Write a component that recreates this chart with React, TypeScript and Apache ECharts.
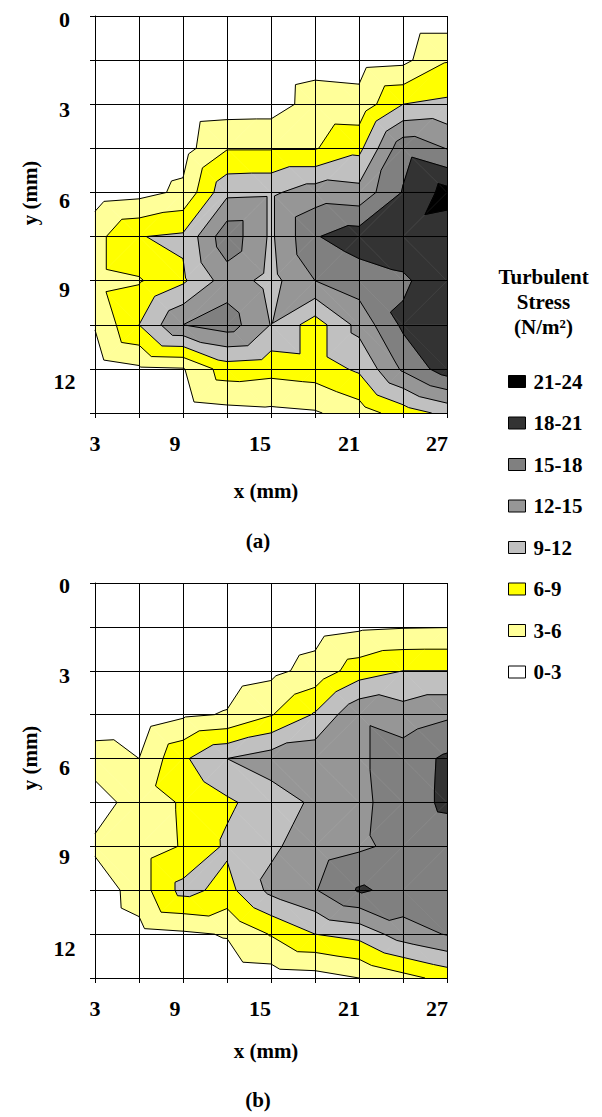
import React, { useEffect, useRef } from "react";
import * as echarts from "echarts";

// Grid node positions (mm)
const X_VALUES = [3, 6, 9, 12, 15, 18, 21, 24, 27];
const Y_VALUES = [0, 1.5, 3, 4.5, 6, 7.5, 9, 10.5, 12, 13.5];
const X_TICK_LABELS = [3, 9, 15, 21, 27];
const Y_TICK_LABELS = [0, 3, 6, 9, 12];

// Stress bands
const BAND_NAMES = ["0-3", "3-6", "6-9", "9-12", "12-15", "15-18", "18-21", "21-24"];
const BAND_LEVELS = [3, 6, 9, 12, 15, 18, 21];
const BAND_COLORS = ["#FFFFFF", "#FFFF99", "#FFFF00", "#C0C0C0", "#969696", "#808080", "#333333", "#000000"];

// Panel (a): turbulent stress (N/m^2), rows y = 0 ... 13.5 mm, columns x = 3 ... 27 mm
const STRESS_A: number[][] = [
  [0.3, 0.4, 0.5, 0.6, 0.7, 0.8, 1.0, 1.2, 1.2],
  [0.5, 0.6, 0.8, 1.0, 1.5, 2.0, 1.8, 2.2, 5.8],
  [0.8, 1.0, 1.2, 1.5, 1.6, 4.2, 4.0, 9.0, 9.6],
  [1.0, 1.3, 1.8, 5.8, 5.8, 5.8, 8.2, 17.0, 14.9],
  [1.5, 2.0, 3.6, 11.3, 11.5, 13.5, 13.0, 18.2, 22.0],
  [5.0, 8.9, 9.5, 17.0, 11.5, 17.8, 19.5, 20.0, 19.5],
  [5.0, 5.7, 8.5, 13.5, 11.0, 15.0, 16.5, 17.5, 20.0],
  [3.2, 9.0, 15.0, 16.5, 11.9, 7.5, 13.0, 18.6, 20.0],
  [1.5, 2.5, 2.8, 7.5, 7.0, 7.5, 9.5, 15.5, 19.6],
  [1.0, 1.2, 1.5, 2.0, 2.3, 2.7, 4.5, 7.5, 9.8],
];

// Panel (b)
const STRESS_B: number[][] = [
  [0.2, 0.3, 0.3, 0.4, 0.5, 0.6, 0.8, 1.0, 1.2],
  [0.4, 0.5, 0.6, 0.8, 1.2, 1.8, 2.5, 2.8, 2.9],
  [0.6, 0.8, 1.0, 1.5, 2.2, 4.0, 7.5, 9.0, 9.0],
  [0.8, 1.0, 2.5, 3.2, 5.8, 9.3, 14.5, 13.3, 14.5],
  [4.5, 3.0, 8.5, 12.0, 13.5, 14.0, 14.5, 16.5, 18.5],
  [1.5, 4.5, 6.3, 8.5, 10.5, 12.5, 14.3, 16.5, 18.6],
  [3.6, 4.5, 6.2, 9.5, 11.5, 13.5, 14.5, 15.8, 16.2],
  [1.0, 4.5, 10.0, 8.0, 12.8, 14.8, 18.3, 17.3, 16.5],
  [0.8, 2.0, 2.5, 3.2, 6.2, 9.0, 10.0, 13.5, 15.2],
  [0.5, 0.8, 1.0, 1.2, 1.5, 1.8, 3.0, 5.0, 7.0],
];

const FONT = "'Liberation Serif', 'Times New Roman', Times, serif";

type Pt = [number, number, number];

// each grid cell is split into two triangles along the diagonal that joins the higher pair of corners
function buildTriangles(grid: number[][]): Pt[][] {
  const tris: Pt[][] = [];
  for (let j = 0; j < Y_VALUES.length - 1; j++) {
    for (let i = 0; i < X_VALUES.length - 1; i++) {
      const tl: Pt = [X_VALUES[i], Y_VALUES[j], grid[j][i]];
      const tr: Pt = [X_VALUES[i + 1], Y_VALUES[j], grid[j][i + 1]];
      const br: Pt = [X_VALUES[i + 1], Y_VALUES[j + 1], grid[j + 1][i + 1]];
      const bl: Pt = [X_VALUES[i], Y_VALUES[j + 1], grid[j + 1][i]];
      if (tl[2] + br[2] >= tr[2] + bl[2]) {
        tris.push([tl, tr, br], [tl, br, bl]);
      } else {
        tris.push([tl, tr, bl], [tr, br, bl]);
      }
    }
  }
  return tris;
}

function clipPoly(poly: Pt[], level: number, keepAbove: boolean): Pt[] {
  const out: Pt[] = [];
  for (let k = 0; k < poly.length; k++) {
    const a = poly[k];
    const b = poly[(k + 1) % poly.length];
    const ina = keepAbove ? a[2] >= level : a[2] <= level;
    const inb = keepAbove ? b[2] >= level : b[2] <= level;
    if (ina) out.push(a);
    if (ina !== inb) {
      const t = (level - a[2]) / (b[2] - a[2]);
      out.push([a[0] + t * (b[0] - a[0]), a[1] + t * (b[1] - a[1]), level]);
    }
  }
  return out;
}

function bandPolygons(tris: Pt[][], band: number): Pt[][] {
  const res: Pt[][] = [];
  for (const tri of tris) {
    let poly: Pt[] = tri;
    if (band > 0) poly = clipPoly(poly, BAND_LEVELS[band - 1], true);
    if (poly.length >= 3 && band < BAND_NAMES.length - 1) poly = clipPoly(poly, BAND_LEVELS[band], false);
    if (poly.length >= 3) res.push(poly);
  }
  return res;
}

function contourSegments(tris: Pt[][]): number[][] {
  const segs: number[][] = [];
  for (const tri of tris) {
    for (const L of BAND_LEVELS) {
      const pts: number[][] = [];
      for (let k = 0; k < 3; k++) {
        const a = tri[k];
        const b = tri[(k + 1) % 3];
        if ((a[2] >= L) !== (b[2] >= L)) {
          const t = (L - a[2]) / (b[2] - a[2]);
          pts.push([a[0] + t * (b[0] - a[0]), a[1] + t * (b[1] - a[1])]);
        }
      }
      if (pts.length === 2) segs.push([pts[0][0], pts[0][1], pts[1][0], pts[1][1]]);
    }
  }
  return segs;
}

const baseLabel = { fontSize: 22, fontWeight: "bold", fontFamily: FONT, color: "#000", lineHeight: 22 };

// label offsets in px (reference layout)
const X_LABEL_SHIFT = [0, -8, -11, -10, -10];
const Y_LABEL_SHIFT = [
  [3.5, 5.5, 8, 9, 13],
  [2, 4.5, 8.5, 10.5, 14.5],
];

function near(v: number, t: number) {
  return Math.abs(v - t) < 1e-6;
}

function xAxisFor(g: number) {
  const rich: any = {};
  X_TICK_LABELS.forEach((_, k) => {
    const s = X_LABEL_SHIFT[k];
    rich["x" + k] = { ...baseLabel, padding: s < 0 ? [0, -2 * s, 0, 0] : [0, 0, 0, 2 * s] };
  });
  return {
    type: "value",
    gridIndex: g,
    min: 3,
    max: 27,
    interval: 3,
    z: 3,
    axisLine: { show: true, onZero: false, lineStyle: { color: "#000", width: 1 } },
    axisTick: { show: true, length: 5, lineStyle: { color: "#000", width: 1 } },
    splitLine: { show: true, lineStyle: { color: "#000", width: 1 } },
    axisLabel: {
      margin: 19,
      showMinLabel: true,
      showMaxLabel: true,
      formatter: (v: number) => {
        const k = X_TICK_LABELS.findIndex((t) => near(v, t));
        return k >= 0 ? `{x${k}|${X_TICK_LABELS[k]}}` : "";
      },
      rich,
      ...baseLabel,
    },
  };
}

function yAxisFor(g: number) {
  const rich: any = {};
  Y_TICK_LABELS.forEach((_, k) => {
    const s = Y_LABEL_SHIFT[g][k];
    rich["y" + k] = { ...baseLabel, padding: [2 * s, 0, 0, 0] };
  });
  return {
    type: "value",
    gridIndex: g,
    min: 0,
    max: 13.5,
    interval: 1.5,
    inverse: true,
    z: 3,
    axisLine: { show: true, onZero: false, lineStyle: { color: "#000", width: 1 } },
    axisTick: { show: true, length: 5, lineStyle: { color: "#000", width: 1 } },
    splitLine: { show: true, lineStyle: { color: "#000", width: 1 } },
    axisLabel: {
      margin: 30.5,
      align: "center",
      showMinLabel: true,
      showMaxLabel: true,
      formatter: (v: number) => {
        const k = Y_TICK_LABELS.findIndex((t) => near(v, t));
        return k >= 0 ? `{y${k}|${Y_TICK_LABELS[k]}}` : "";
      },
      rich,
      ...baseLabel,
    },
  };
}

function panelSeries(grid: number[][], g: number) {
  const tris = buildTriangles(grid);
  const series: any[] = [];
  BAND_NAMES.forEach((name, b) => {
    const polys = bandPolygons(tris, b);
    const color = BAND_COLORS[b];
    series.push({
      type: "custom",
      name,
      xAxisIndex: g,
      yAxisIndex: g,
      coordinateSystem: "cartesian2d",
      silent: true,
      z: 1,
      itemStyle: { color, borderColor: "#000", borderWidth: 1 },
      data: [[X_VALUES[0], Y_VALUES[0]]],
      renderItem: (_params: any, api: any) => ({
        type: "group",
        children: polys.map((poly) => ({
          type: "polygon",
          shape: { points: poly.map((p) => api.coord([p[0], p[1]])) },
          style: { fill: color, stroke: color, lineWidth: 0.7 },
        })),
      }),
    });
  });
  const segs = contourSegments(tris);
  series.push({
    type: "custom",
    xAxisIndex: g,
    yAxisIndex: g,
    coordinateSystem: "cartesian2d",
    silent: true,
    z: 2,
    data: [[X_VALUES[0], Y_VALUES[0]]],
    renderItem: (_params: any, api: any) => ({
      type: "group",
      children: segs.map((s) => {
        const p1 = api.coord([s[0], s[1]]);
        const p2 = api.coord([s[2], s[3]]);
        return {
          type: "line",
          shape: { x1: p1[0], y1: p1[1], x2: p2[0], y2: p2[1] },
          style: { stroke: "#000", lineWidth: 1 },
        };
      }),
    }),
  });
  return series;
}

function textEl(text: string, x: number, y: number, extra: any = {}) {
  return {
    type: "text",
    x,
    y,
    silent: true,
    ...extra,
    style: {
      text,
      fill: "#000",
      fontSize: 21,
      fontWeight: "bold",
      fontFamily: FONT,
      align: "center",
      verticalAlign: "middle",
      ...(extra.style || {}),
    },
  };
}

export default function App() {
  const ref = useRef<HTMLDivElement>(null);

  useEffect(() => {
    if (!ref.current) return;
    const chart = echarts.init(ref.current, undefined, { renderer: "svg" });
    const legendData = [...BAND_NAMES]
      .map((name, b) => ({
        name,
        itemStyle: { color: BAND_COLORS[b], borderColor: "#000", borderWidth: 1 },
      }))
      .reverse();

    chart.setOption({
      animation: false,
      backgroundColor: "#fff",
      grid: [
        { left: 95, top: 16, width: 352, height: 397 },
        { left: 95, top: 583, width: 352, height: 395 },
      ],
      xAxis: [xAxisFor(0), xAxisFor(1)],
      yAxis: [yAxisFor(0), yAxisFor(1)],
      legend: {
        orient: "vertical",
        left: 503,
        top: 366,
        icon: "rect",
        itemWidth: 17,
        itemHeight: 12,
        itemGap: 20.5,
        selectedMode: false,
        data: legendData,
        textStyle: {
          fontSize: 21,
          lineHeight: 20,
          fontWeight: "bold",
          fontFamily: FONT,
          color: "#000",
          padding: [0, 0, 0, 3],
        },
      },
      graphic: [
        textEl("y (mm)", 29.5, 193, { rotation: Math.PI / 2 }),
        textEl("y (mm)", 29.5, 758, { rotation: Math.PI / 2 }),
        textEl("x (mm)", 266, 491),
        textEl("x (mm)", 266, 1051),
        textEl("(a)", 258, 541),
        textEl("(b)", 258, 1100),
        textEl("Turbulent\nStress\n(N/m²)", 543.5, 302, { style: { lineHeight: 25 } }),
      ],
      series: [...panelSeries(STRESS_A, 0), ...panelSeries(STRESS_B, 1)],
    });
    return () => chart.dispose();
  }, []);

  return (
    <div
      ref={ref}
      style={{ position: "absolute", left: 0, top: 0, width: 602, height: 1117 }}
    />
  );
}
